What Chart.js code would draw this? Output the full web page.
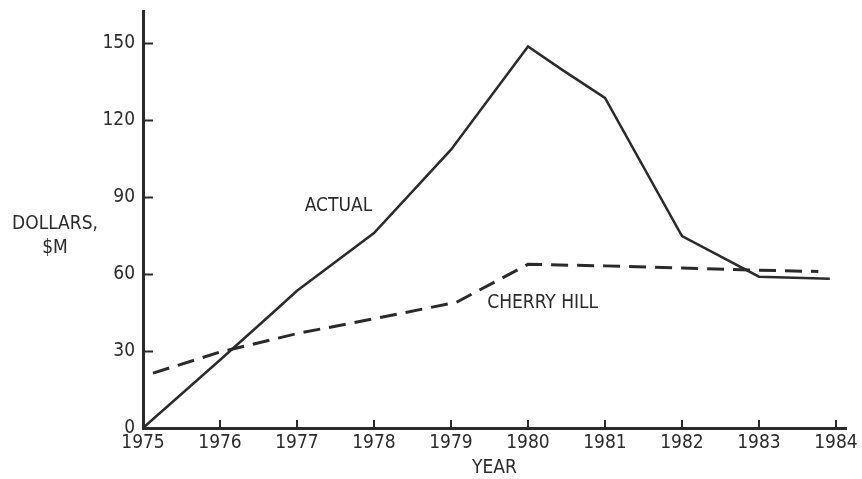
<!DOCTYPE html>
<html>
<head>
<meta charset="utf-8">
<script src="https://cdn.jsdelivr.net/npm/chart.js@4"></script>
<style>
  html, body { margin: 0; padding: 0; background: #fff; }
  #wrap { width: 862px; height: 479px; }
</style>
</head>
<body>
<div id="wrap"><canvas id="chart" width="862" height="479"></canvas></div>
<script>
const yearTicks = [1975, 1976, 1977, 1978, 1979, 1980, 1981, 1982, 1983, 1984];
const dollarTicks = [0, 30, 60, 90, 120, 150];

const actualYears = [1975, 1976, 1976.74, 1977, 1978, 1979, 1980, 1980.45, 1981, 1982, 1983, 1983.92];
const actualValues = [0, 26.5, 46.4, 53.5, 76, 108.5, 148.7, 139.5, 128.7, 74.8, 59, 58.2];

const cherryYears = [1975.13, 1976, 1977, 1978, 1979.07, 1980, 1981, 1982, 1983, 1983.77];
const cherryValues = [21.4, 29.6, 36.8, 42.6, 49, 63.8, 63.2, 62.4, 61.5, 61];

const ink = '#2b2b2b';
const fontFamily = "'Liberation Sans Narrow', 'DejaVu Sans Condensed', 'Arial Narrow', sans-serif";

const toPoints = (xs, ys) => xs.map((x, i) => ({ x: x, y: ys[i] }));

// tick marks drawn inside the plot, like the original
const innerTicks = {
    id: 'innerTicks',
    afterDraw(chart) {
        const { ctx, scales: { x, y } } = chart;
        ctx.save();
        ctx.strokeStyle = ink;
        ctx.lineWidth = 2;
        ctx.beginPath();
        dollarTicks.slice(1).forEach(v => {
            const py = Math.round(y.getPixelForValue(v)) + 0.5;
            ctx.moveTo(x.left, py);
            ctx.lineTo(x.left + 10, py);
        });
        yearTicks.slice(1).forEach(v => {
            const px = Math.round(x.getPixelForValue(v));
            ctx.moveTo(px, y.bottom);
            ctx.lineTo(px, y.bottom - 8);
        });
        ctx.stroke();

        // text labels
        ctx.fillStyle = ink;
        ctx.font = `19px ${fontFamily}`;
        ctx.textBaseline = 'middle';
        ctx.textAlign = 'left';
        ctx.fillText('ACTUAL', x.getPixelForValue(1977.1), y.getPixelForValue(86.4));
        ctx.fillText('CHERRY HILL', x.getPixelForValue(1979.47), y.getPixelForValue(48.8));
        ctx.textAlign = 'center';
        ctx.fillText('DOLLARS,', x.left - 88, y.getPixelForValue(79.5));
        ctx.fillText('$M', x.left - 88, y.getPixelForValue(70.3));
        ctx.restore();
    }
};

new Chart(document.getElementById('chart'), {
    type: 'line',
    data: {
        datasets: [
            {
                label: 'ACTUAL',
                data: toPoints(actualYears, actualValues),
                borderColor: ink,
                borderWidth: 2.5,
                pointRadius: 0,
                tension: 0
            },
            {
                label: 'CHERRY HILL',
                data: toPoints(cherryYears, cherryValues),
                borderColor: ink,
                borderWidth: 3,
                borderDash: [17, 9],
                pointRadius: 0,
                tension: 0
            }
        ]
    },
    options: {
        responsive: false,
        animation: false,
        layout: { padding: { top: 9, right: 16, left: 0, bottom: 0 } },
        plugins: {
            legend: { display: false },
            tooltip: { enabled: false }
        },
        scales: {
            x: {
                type: 'linear',
                min: 1975,
                max: 1984.13,
                afterBuildTicks: (scale) => {
                    scale.ticks = yearTicks.map(v => ({ value: v }));
                },
                afterFit: (scale) => { scale.height = 51; },
                grid: { display: false },
                border: { display: true, color: ink, width: 3 },
                ticks: {
                    color: ink,
                    padding: -4,
                    maxRotation: 0,
                    autoSkip: false,
                    font: { family: fontFamily, size: 19 },
                    callback: (v) => String(v)
                },
                title: {
                    display: true,
                    text: 'YEAR',
                    color: ink,
                    padding: { top: 0, bottom: 0 },
                    font: { family: fontFamily, size: 19 }
                }
            },
            y: {
                type: 'linear',
                min: 0,
                max: 162.4,
                afterBuildTicks: (scale) => {
                    scale.ticks = dollarTicks.map(v => ({ value: v }));
                },
                afterFit: (scale) => { scale.width = 143; },
                grid: { display: false },
                border: { display: true, color: ink, width: 3 },
                ticks: {
                    color: ink,
                    padding: 0,
                    font: { family: fontFamily, size: 19 },
                    callback: (v) => String(v)
                }
            }
        }
    },
    plugins: [innerTicks]
});
</script>
</body>
</html>
